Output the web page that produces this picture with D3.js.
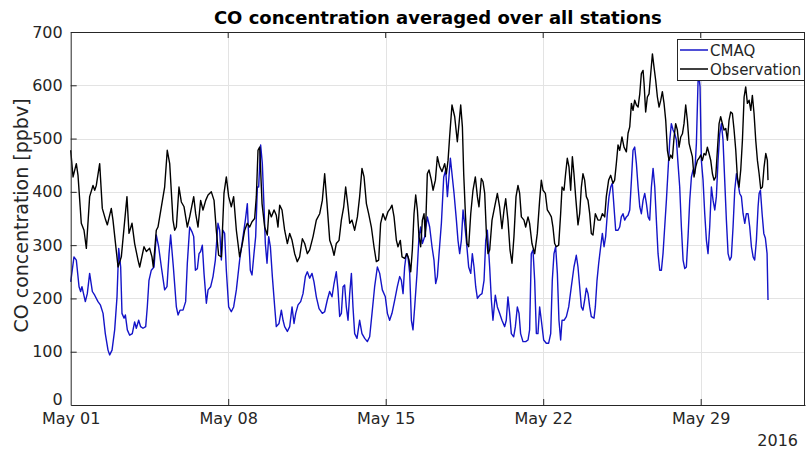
<!DOCTYPE html>
<html><head><meta charset="utf-8">
<script src="https://cdn.jsdelivr.net/npm/d3@7"></script>
<style>body{margin:0;background:#fff}svg{display:block;font-family:"DejaVu Sans",sans-serif}</style>
</head><body><svg id="c" width="806" height="449"></svg>
<script>
// hours since 2016-05-01 00:00 and values (ppbv)
const obsHours = [0,2.5,6,7.8,11.3,14.2,16.7,20.2,23.8,25.6,27.3,30.9,33.7,37.3,39.1,43.3,45.1,50.5,54,60,62.2,65.4,68.2,71.8,73.6,78.2,80.7,84.2,86.7,88.1,91.3,93.1,96.7,100.2,103,105.6,109.1,110.9,112.7,115.5,118,120.9,124.4,126.9,131.2,133.3,135.8,138.6,141.1,144,146.5,
150,152.9,155.3,157.8,160.7,163.5,166,168.5,171.3,173.8,176.7,180.2,183.1,185.6,188.4,190.9,193.4,196.2,198,199.8,201.6,204.1,206.9,209.7,211.5,214,216.9,219.3,221.1,222.9,225.4,228.2,231.1,233.6,236.1,238.9,241.7,244.2,247.1,249.6,252.4,254.9,258.5,262,265.6,268.4,270.9,273.4,276.3,278.7,280.9,283.3,286.2,288.7,291.2,293.3,295.8,
297.6,300,302.9,305.8,308.2,310.7,312.9,315.4,317.8,320.7,323.5,326,328.5,330.6,333.1,335.6,338.5,341,342.7,344.9,347.4,349.1,351.6,353.4,356.2,358.7,360.9,362.7,364.4,366.2,368,369.8,371.5,373.3,375.1,376.9,378.3,380.4,382.2,384.7,386.5,389,391.1,393.6,396.1,398.9,400.7,402.5,404.3,406.7,409.6,412.4,414.2,416,417.8,419.2,421,422.7,424.5,426.7,429.1,431.6,433.8,435.5,438,439.8,441.6,443.4,
445.1,446.9,449.4,452.2,455.1,457.5,460,462.2,464,466.4,468.6,470.7,472.8,475,477.1,478.9,480.7,483.5,485.3,487.8,489.5,492,494.9,497.7,500.2,502,503.8,506.3,508.4,510.9,512.7,514.4,516.2,518,520.5,522.6,524.1,526.2,527.9,529.7,531.5,533.3,535.1,536.8,538.6,541.1,542.9,544.7,546.4,548.2,550,551.8,553.6,555.3,557.1,559.6,562.4,564.9,567.1,569.6,571.3,573.8,576,578.4,580.2,582,583.8,585.6,588,590.2,592.7,
594.5,596.3,598.1,599.8,601.6,603.4,605.2,607,608.7,610.5,611.6,613.3,615.1,616.9,618.7,620.5,622.2,624,625.8,627.6,629.4,631.1,632.9,634.7,636.5,638.2,640,641.8,643.6,645.3,647.1,648.9,650.7,652.5,654.2,656,657.8,659.6,661.4,663.1,664.9,666.7,668.5,670.2,672,673.8,675.6,677.4,679.1,680.9,682.7,684.5,686.2,688,689.8,691.6,693.3,695.1,696.9,698.7,700.5,702.2,704,705.8,707.6,709.4,711.1,712.9,714.7,716.5,718.3,720,721.8,723.6,725.4,727.1,728.9,730.7,732.5,734.3,736,737.8,739.6,741.4,743.1,743.8];
const obsValues = [478,428,453,431,341,328,294,391,412,403,412,453,369,347,338,369,347,259,278,391,322,341,303,272,259,297,288,294,278,259,328,334,372,409,478,453,347,328,334,409,381,372,334,353,391,359,334,384,366,384,394,
400,384,328,281,278,397,428,391,372,391,328,278,303,328,341,334,344,350,391,478,484,378,334,319,366,353,366,356,334,375,366,328,303,322,309,284,269,278,312,303,284,291,316,347,359,384,434,378,309,297,281,303,309,347,372,409,372,
341,347,328,353,391,444,428,378,359,334,297,269,272,341,359,347,363,369,375,353,309,297,309,278,275,284,272,250,291,359,394,366,316,297,347,359,316,434,441,422,403,422,466,447,438,453,434,459,506,563,541,494,528,563,522,434,359,303,297,359,403,428,391,372,425,419,397,322,
284,291,347,372,397,372,331,366,387,347,291,266,316,391,412,397,353,347,334,353,341,303,284,322,384,422,403,397,366,359,353,334,303,297,300,359,409,403,434,463,447,403,466,434,391,338,359,409,434,422,391,384,359,322,319,359,347,347,359,353,391,422,431,416,422,453,488,478,503,484,475,
510,522,566,553,572,563,559,584,622,628,603,550,578,584,622,659,634,609,578,559,572,588,566,534,478,459,469,463,503,528,516,484,503,509,528,563,534,491,478,466,428,447,459,463,469,459,472,469,484,472,459,434,422,428,478,528,541,528,516,519,497,534,550,547,516,478,428,409,441,497,578,597,566,572,553,581,547,497,459,434,406,409,447,472,459,422];
const cmaqHours = [0,3.5,6,8.9,10.6,12,15.6,17.7,20.2,23.1,25.6,29.1,31.6,34.5,36.9,39.8,41.6,44.1,46.9,49.4,51.2,53.3,54.7,56.9,58.3,60.4,62.9,65.7,68.2,70,72.5,74.6,77.1,80,81.7,83.5,86,88.9,91.3,93.8,96.7,100.2,102.7,104.9,106.6,109.5,112.7,114.5,116.6,119.8,122.6,124.4,126.9,129.4,131.2,133,135.1,136.9,138.6,140.4,142.2,144.7,146.5,
149.3,151.8,154.3,157.1,158.9,160.7,162.4,164.2,166,168.5,171.3,173.8,176.7,180.2,183.8,186.3,188.4,189.8,191.6,193.4,195.5,197.3,199.1,200.5,202.6,204.4,206.2,207.6,209.4,211.2,213,215.1,217.6,219.3,222.2,224.7,226.5,228.2,231.1,233.6,236.1,238.2,240,242.5,245.3,247.8,250.3,252.4,254.9,257.4,259.5,262,264.9,268.4,270.9,273.7,276.2,278.7,280.9,283.3,285.1,286.9,288.7,290.5,292.2,294,295.8,
297.6,299.4,301.1,302.9,305.4,308.2,310.7,313.6,316.4,318.9,321.4,324.2,327.1,329.6,332.4,335.6,337.8,340.2,342.7,345.6,348.4,350.9,352.7,354.5,356.2,358,359.8,361.6,363.4,365.1,366.9,369.4,371.5,373.3,375.1,377.6,380.4,382.9,385.4,387.5,389.3,391.1,392.9,395.4,397.9,400,401.8,403.2,405,406.7,408.9,411.4,413.1,414.9,416.7,418.5,420.2,422,424.5,426.7,428.4,430.2,432,433.8,436.3,438.7,440.9,442.7,444.4,
446.9,448.7,450.4,452.9,455.1,457.5,460,462.9,464.6,466.4,468.2,470,472.5,474.3,476.4,478.2,479.9,482.4,485.3,487.8,489.5,491.3,493.1,494.9,496.7,498.4,500.2,502,504.5,507.3,509.8,512,513.7,515.5,517.3,519.1,520.8,522.6,524.1,526.2,528.7,531.2,534,536.8,539.3,541.1,542.9,544.7,546.4,548.2,550,551.8,553.6,555.3,558.2,559.6,561.4,563.2,565.3,567.1,568.9,570.6,572.4,574.2,576,577.7,579.5,581.3,583.8,585.6,587.3,589.1,590.9,592.7,
594.5,596.3,598.1,599.8,601.6,603.4,605.2,607,608.7,610.5,612.3,614.1,615.9,617.6,619.4,621.2,623,624.7,626.5,628.3,630.1,631.8,633.6,635.4,637.2,639,640.7,642.5,644.3,646.1,647.8,649.6,651.4,653.2,655,656.7,658.5,660.3,662.1,663.8,665.6,667.4,669.2,670.2,671.3,672.7,674.5,676.3,678.1,679.8,681.6,683.4,685.2,687,688.7,690.5,692.3,694.1,695.8,697.6,699.4,701.2,703,704.7,706.5,708.3,710.1,711.8,713.6,715.4,717.2,719,720.7,722.5,724.3,726.1,727.9,729.6,731.4,733.2,734.3,735.7,737.5,739.3,741,742.8,743.8];
const cmaqValues = [231,278,272,222,213,222,194,209,247,213,206,194,188,172,134,103,94,103,141,203,294,259,172,163,169,141,131,134,156,144,159,147,144,147,184,234,253,259,319,297,259,216,222,284,319,259,184,169,178,178,194,266,334,325,316,253,256,284,288,300,247,191,216,
222,241,272,341,328,272,328,322,253,184,175,184,216,272,316,347,378,316,253,244,284,316,409,409,488,453,372,303,266,316,297,241,184,147,153,178,159,147,138,147,184,153,172,188,194,209,241,250,238,247,231,203,181,172,175,197,213,203,228,250,216,166,172,222,225,184,159,
209,247,184,134,125,159,134,125,119,128,172,222,259,247,216,203,172,159,172,197,222,241,234,209,259,284,278,247,159,141,184,247,316,334,303,316,353,334,297,272,228,241,284,341,428,441,391,422,463,434,397,347,309,284,309,366,341,309,259,247,284,259,222,200,206,209,234,309,328,
259,197,159,206,184,172,159,147,159,203,172,134,128,147,184,172,134,119,119,122,141,284,291,234,134,134,184,159,122,116,116,134,234,284,297,247,159,122,159,159,166,184,222,259,281,259,222,184,178,197,219,209,184,166,163,184,234,266,297,322,297,316,359,391,409,416,372,328,328,334,353,359,347,353,
356,366,422,478,484,453,409,372,359,384,397,378,353,347,409,444,409,347,284,253,253,284,334,384,441,497,528,516,509,497,453,409,334,272,256,259,316,384,428,441,434,491,609,616,597,459,422,359,309,284,334,409,384,366,391,459,509,528,497,422,347,284,272,278,334,403,434,416,397,391,359,341,359,359,334,297,278,272,309,372,397,403,359,322,313,284,197];
const xTickDays = ["2016-05-01","2016-05-08","2016-05-15","2016-05-22","2016-05-29"];
const yTicks = [0,100,200,300,400,500,600,700];
const seriesNames = ["CMAQ","Observation"];
const seriesColors = ["#1414c8","#000000"];

const svg = d3.select("#c");
const L = 70.7, R = 805, T = 32, B = 405;
const t0 = Date.UTC(2016,4,1);
const H = 3600e3;
const x = d3.scaleUtc().domain([new Date(t0), new Date(t0 + 783.25*H)]).range([L, R]);
const y = d3.scaleLinear().domain([0,700]).range([B, T]);
const axisCol = "#262626";

svg.append("rect").attr("width",806).attr("height",449).attr("fill","#fff");
const tickDates = xTickDays.map(s => new Date(s + "T00:00:00Z"));

// grid
const g = svg.append("g").attr("stroke","#e3e3e3").attr("stroke-width",1);
yTicks.slice(1,-1).forEach(v => g.append("line").attr("x1",L).attr("x2",R).attr("y1",Math.round(y(v))+0.5).attr("y2",Math.round(y(v))+0.5));
tickDates.slice(1).forEach(d => g.append("line").attr("y1",T).attr("y2",B).attr("x1",Math.round(x(d))+0.5).attr("x2",Math.round(x(d))+0.5));

// lines
const mk = (hrs, vals) => hrs.map((h,i) => [new Date(t0 + h*H), vals[i]]);
const line = d3.line().x(d => x(d[0])).y(d => y(d[1]));
svg.append("path").attr("d", line(mk(cmaqHours,cmaqValues))).attr("fill","none").attr("stroke",seriesColors[0]).attr("stroke-width",1.4).attr("stroke-linejoin","round");
svg.append("path").attr("d", line(mk(obsHours,obsValues))).attr("fill","none").attr("stroke",seriesColors[1]).attr("stroke-width",1.4).attr("stroke-linejoin","round");

// axes
const xa = svg.append("g").attr("transform",`translate(0,${B})`)
  .call(d3.axisBottom(x).tickValues(tickDates).tickFormat(d3.utcFormat("%b %d")).tickSizeInner(-6).tickSizeOuter(0).tickPadding(8));
const ya = svg.append("g").attr("transform",`translate(${L},0)`)
  .call(d3.axisLeft(y).tickValues(yTicks).tickSizeInner(-6).tickSizeOuter(0).tickPadding(8));
[xa,ya].forEach(a => {
  a.selectAll("path").attr("stroke",axisCol);
  a.selectAll("line").attr("stroke",axisCol);
  a.selectAll("text").attr("fill",axisCol).attr("font-size",16).attr("font-family","DejaVu Sans");
});
xa.selectAll(".tick").filter((d,i)=>i===0).select("line").remove();
ya.selectAll(".tick").filter(d=>d===0||d===700).select("line").remove();
ya.selectAll(".tick").filter(d=>d===0).select("text").attr("y",-6);
// top / right border with inner ticks
svg.append("line").attr("x1",L).attr("x2",R).attr("y1",T+0.5).attr("y2",T+0.5).attr("stroke",axisCol);
svg.append("line").attr("x1",R-0.5).attr("x2",R-0.5).attr("y1",T).attr("y2",B).attr("stroke",axisCol);
tickDates.slice(1).forEach(d => svg.append("line").attr("x1",x(d)).attr("x2",x(d)).attr("y1",T).attr("y2",T+6).attr("stroke",axisCol));

svg.append("text").attr("x",798).attr("y",446).attr("text-anchor","end").attr("font-size",16).attr("fill",axisCol).text("2016");

// title & labels
svg.append("text").attr("x",(L+R)/2).attr("y",24).attr("text-anchor","middle").attr("font-weight","bold").attr("font-size",18).attr("fill","#000").text("CO concentration averaged over all stations");
svg.append("text").attr("transform",`translate(28,${(T+B)/2 - 3}) rotate(-90)`).attr("text-anchor","middle").attr("font-size",19).attr("fill",axisCol).text("CO concentration [ppbv]");

// legend
const lg = svg.append("g");
lg.append("rect").attr("x",677.5).attr("y",39.5).attr("width",127).attr("height",41).attr("fill","#fff").attr("stroke",axisCol).attr("stroke-width",1);
seriesNames.forEach((n,i) => {
  const yy = 50 + i*19;
  lg.append("line").attr("x1",680).attr("x2",708).attr("y1",yy).attr("y2",yy).attr("stroke",seriesColors[i]).attr("stroke-width",1.5);
  lg.append("text").attr("x",710).attr("y",yy+5.5).attr("font-size",15).attr("fill",axisCol).text(n);
});
</script></body></html>
